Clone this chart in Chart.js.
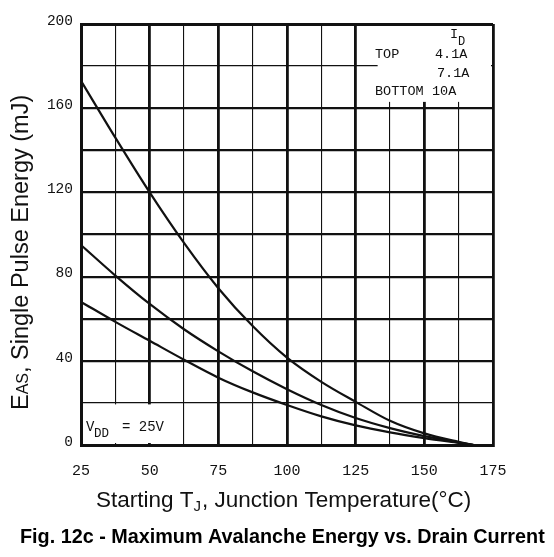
<!DOCTYPE html>
<html lang="en">
<head>
  <meta charset="UTF-8" />
  <title>Maximum Avalanche Energy vs. Drain Current</title>
  <style>
    html, body { margin: 0; padding: 0; background: #fff; }
    #wrap { width: 554px; height: 557px; position: relative; }
  </style>
</head>
<body>
  <div id="wrap"><canvas id="eas" width="554" height="557"></canvas></div>

  <script src="https://cdn.jsdelivr.net/npm/chart.js"></script>
  <script>
    // starting junction temperature (°C)
    const temps = [25, 37.5, 50, 62.5, 75, 87.5, 100, 112.5, 125, 137.5, 150, 162.5, 168];
    // single pulse energy (mJ) per drain current
    const eTop4_1A = [173, 146, 120, 96, 74.5, 56.5, 41.5, 30, 20.5, 11.5, 5.5, 1.5, 0];
    const eMid7_1A = [95, 80.5, 67, 55, 44.5, 35, 26.5, 19, 12.8, 8, 4.2, 1.2, 0];
    const eBot10A = [68, 58.5, 49.5, 40.5, 32, 25, 19, 13.6, 9.3, 6, 3.3, 1, 0];

    const xTicks = [25, 50, 75, 100, 125, 150, 175];
    const yTicks = [0, 40, 80, 120, 160, 200];
    const legendRows = [['TOP', '4.1A'], ['', '7.1A'], ['BOTTOM', '10A']];

    const ink = '#111';
    const mono = '"Liberation Mono", "DejaVu Sans Mono", monospace';
    const sans = '"Liberation Sans", Arial, sans-serif';

    function pts(ys) {
      return temps.map((t, i) => ({ x: t, y: ys[i] }));
    }

    const lineStyle = {
      borderColor: ink,
      borderWidth: 2.2,
      pointRadius: 0,
      fill: false,
      cubicInterpolationMode: 'monotone'
    };

    // boxes, subscripts and titles drawn on top of the chart
    const decor = {
      id: 'decor',
      beforeDatasetsDraw(chart) {
        const { ctx, chartArea: a, scales: { x, y } } = chart;
        ctx.save();
        ctx.fillStyle = '#fff';
        // legend box, top right
        const lx = x.getPixelForValue(133), ly = y.getPixelForValue(163);
        ctx.fillRect(lx, a.top + 2, a.right - lx - 2, ly - a.top - 2);
        // Vdd box, bottom left
        const vx = x.getPixelForValue(62.5) - 1, vy = y.getPixelForValue(20) + 1.5;
        ctx.fillRect(a.left + 2, vy, vx - a.left - 2, a.bottom - vy - 2);
        ctx.restore();
      },
      afterDraw(chart) {
        const { ctx } = chart;
        ctx.save();
        ctx.fillStyle = ink;
        ctx.textBaseline = 'alphabetic';
        ctx.textAlign = 'left';

        // legend text
        ctx.font = '13.5px ' + mono;
        ctx.fillText('I', 450, 38);
        ctx.font = '12px ' + mono;
        ctx.fillText('D', 458, 45);
        ctx.font = '13.5px ' + mono;
        const valX = [435, 437, 432];
        legendRows.forEach((r, i) => {
          const by = 58 + i * 18.5;
          ctx.fillText(r[0], 375, by);
          ctx.fillText(r[1], valX[i], by);
        });

        // Vdd note
        ctx.font = '14px ' + mono;
        ctx.fillText('V', 86, 431);
        ctx.font = '12.5px ' + mono;
        ctx.fillText('DD', 94, 437);
        ctx.font = '14px ' + mono;
        ctx.fillText('= 25V', 122, 431);

        // x axis title with subscript J
        const p1 = 'Starting T', p3 = ', Junction Temperature(°C)';
        ctx.font = '22.5px ' + sans;
        const w1 = ctx.measureText(p1).width;
        ctx.fillText(p1, 96, 507);
        ctx.font = '15px ' + sans;
        const wJ = ctx.measureText('J').width;
        ctx.fillText('J', 96 + w1, 511);
        ctx.font = '22.5px ' + sans;
        ctx.fillText(p3, 96 + w1 + wJ + 1, 507);

        // y axis title, rotated, with subscript AS
        ctx.translate(28, 410);
        ctx.rotate(-Math.PI / 2);
        const q1 = 'E', q3 = ', Single Pulse Energy (mJ)';
        ctx.font = '23.5px ' + sans;
        const wq1 = ctx.measureText(q1).width;
        ctx.fillText(q1, 0, 0);
        ctx.font = '16px ' + sans;
        const wq2 = ctx.measureText('AS').width;
        ctx.fillText('AS', wq1, 0);
        ctx.font = '23.5px ' + sans;
        ctx.fillText(q3, wq1 + wq2, 0);
        ctx.restore();

        // caption
        ctx.save();
        ctx.fillStyle = '#000';
        ctx.font = 'bold 19.8px ' + sans;
        ctx.textAlign = 'left';
        ctx.fillText('Fig. 12c - Maximum Avalanche Energy vs. Drain Current', 20, 543);
        ctx.restore();
      }
    };

    new Chart(document.getElementById('eas'), {
      type: 'line',
      data: {
        datasets: [
          Object.assign({ label: '4.1A', data: pts(eTop4_1A) }, lineStyle),
          Object.assign({ label: '7.1A', data: pts(eMid7_1A) }, lineStyle),
          Object.assign({ label: '10A', data: pts(eBot10A) }, lineStyle)
        ]
      },
      options: {
        responsive: false,
        animation: false,
        layout: { padding: { left: 0, right: 61, top: 24, bottom: 0 } },
        plugins: { legend: { display: false }, tooltip: { enabled: false } },
        scales: {
          x: {
            type: 'linear',
            min: 25,
            max: 175,
            afterFit(s) { s.height = 112; },
            afterBuildTicks(s) {
              s.ticks = [];
              for (let v = 25; v <= 175; v += 12.5) s.ticks.push({ value: v });
            },
            ticks: {
              autoSkip: false,
              maxRotation: 0,
              padding: 17,
              color: ink,
              font: { family: mono, size: 15 },
              callback: v => (xTicks.includes(v) ? String(v) : '')
            },
            grid: {
              drawTicks: false,
              color: ink,
              lineWidth: c => (c.tick && c.tick.value % 25 === 0 ? 2.8 : 1.1)
            },
            border: { display: true, color: ink, width: 3 }
          },
          y: {
            min: 0,
            max: 200,
            afterFit(s) { s.width = 81; },
            afterBuildTicks(s) {
              s.ticks = [];
              for (let v = 0; v <= 200; v += 20) s.ticks.push({ value: v });
            },
            ticks: {
              autoSkip: false,
              padding: 8,
              labelOffset: -3,
              color: ink,
              font: { family: mono, size: 14.5 },
              callback: v => (yTicks.includes(v) ? String(v) : '')
            },
            grid: {
              drawTicks: false,
              color: ink,
              lineWidth: c => {
                const v = c.tick ? c.tick.value : 0;
                if (v === 200) return 3;
                return v === 20 || v === 180 ? 1.3 : 2.2;
              }
            },
            border: { display: true, color: ink, width: 3 }
          }
        }
      },
      plugins: [decor]
    });
  </script>
</body>
</html>
